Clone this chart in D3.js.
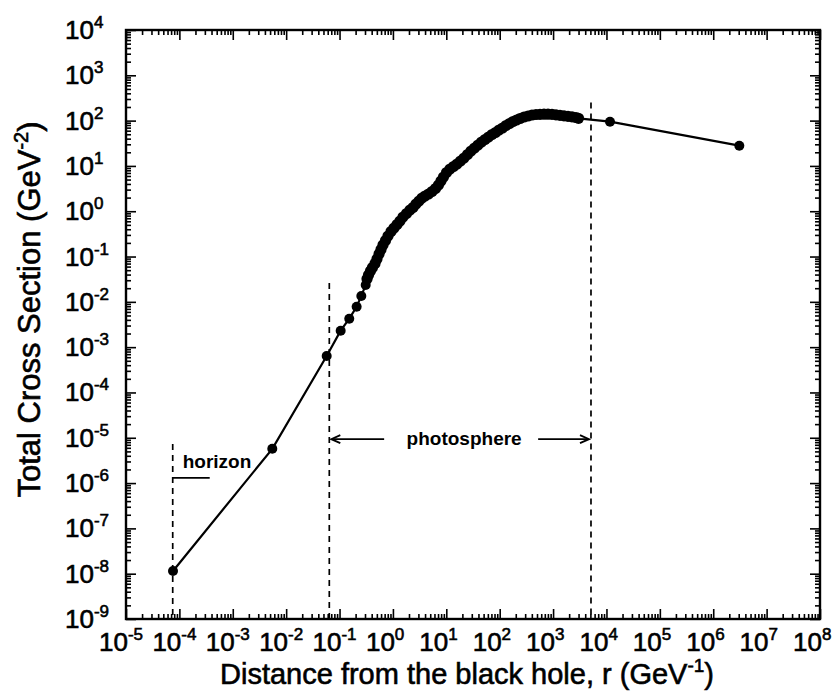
<!DOCTYPE html>
<html>
<head>
<meta charset="utf-8">
<script src="https://cdn.jsdelivr.net/npm/d3@7"></script>
<style>
  body { margin: 0; background: #fff; }
  text { font-family: "Liberation Sans", Arial, Helvetica, sans-serif; fill: #000; }
</style>
</head>
<body>
<svg id="chart" width="835" height="691"></svg>
<script>
// Total cross section vs. distance from the black hole.
// Samples inside the horizon region and the first photosphere points
const sparseR     = [7.6e-5, 5.5e-3, 0.0574, 0.105, 0.152, 0.209, 0.256, 0.309];
const sparseSigma = [1.15e-8, 5.7e-6, 6.4e-4, 2.31e-3, 4.25e-3, 7.8e-3, 0.0135, 0.0236];

// Densely sampled photosphere
const denseR = [
  0.327, 0.349, 0.380, 0.414, 0.462, 0.503, 0.549, 0.598, 0.652, 0.726,
  0.809, 0.920, 1.048, 1.192, 1.357, 1.545, 1.796, 2.088, 2.377, 2.705,
  3.079, 3.505, 3.990, 4.639, 5.395, 6.275, 7.142, 7.954, 8.858, 10.08,
  11.73, 13.63, 15.86, 18.45, 21.45, 24.95, 29.01, 33.74, 39.24, 45.62,
  53.06, 61.71, 71.77, 83.47, 97.05, 112.9, 131.3, 152.7, 177.6, 206.5,
  240.2, 285.3, 339.1, 402.9, 478.6, 568.9, 676.1, 803.5, 954.5, 1134,
  1348, 1602, 1903, 2262, 2688, 2995
];
const denseSigma = [
  0.0320, 0.0392, 0.048, 0.0573, 0.0703, 0.0883, 0.114, 0.143, 0.180, 0.226,
  0.284, 0.357, 0.427, 0.510, 0.609, 0.746, 0.892, 1.065, 1.209, 1.445,
  1.683, 1.960, 2.170, 2.402, 2.727, 3.176, 3.794, 4.650, 5.698, 7.161,
  8.558, 9.714, 11.03, 12.85, 14.96, 17.88, 21.35, 24.87, 28.97, 33.75,
  38.31, 43.50, 49.40, 54.67, 62.09, 68.72, 78.04, 86.42, 95.6, 103.2,
  111.4, 120.2, 126.5, 133.0, 136.5, 137.9, 138.6, 138.6, 137.9, 134.5,
  131.1, 127.8, 124.6, 121.4, 117.2, 112.5
];

// Far-field samples
const tailR     = [1.165e4, 3.08e6];
const tailSigma = [94.7, 28.0];

// Region markers
const horizonR = 7.5e-5;
const horizonTop = 7.3e-6;
const photoInnerR = 0.0643, photoInnerTop = 0.026;
const photoOuterR = 5130,   photoOuterTop = 251;
const arrowSigma = 9.3e-6;

// Axis decades
const xExps = [-5, -4, -3, -2, -1, 0, 1, 2, 3, 4, 5, 6, 7, 8];
const yExps = [-9, -8, -7, -6, -5, -4, -3, -2, -1, 0, 1, 2, 3, 4];

const svg = d3.select("#chart");
const plot = { left: 126, right: 820, top: 30, bottom: 619 };

const x = d3.scaleLog().domain([1e-5, 1e8]).range([plot.left, plot.right]);
const y = d3.scaleLog().domain([1e-9, 1e4]).range([plot.bottom, plot.top]);

const sparse = sparseR.map((r, i) => ({ r, s: sparseSigma[i] }));
const dense = denseR.map((r, i) => ({ r, s: denseSigma[i] }));
const tail = tailR.map((r, i) => ({ r, s: tailSigma[i] }));
const series = [].concat(sparse, dense, tail);

// minor tick values (2..9 in each decade)
function minors(exps) {
  const out = [];
  for (let i = 0; i < exps.length - 1; i++) {
    for (let k = 2; k <= 9; k++) out.push(k * Math.pow(10, exps[i]));
  }
  return out;
}
const xMajor = xExps.map(e => Math.pow(10, e));
const yMajor = yExps.map(e => Math.pow(10, e));
const xMinor = minors(xExps);
const yMinor = minors(yExps);

const axes = svg.append("g").attr("class", "axes");

function drawAxis(gen, tx, ty) {
  const g = axes.append("g").attr("transform", `translate(${tx},${ty})`).call(gen);
  g.selectAll("text").remove();
  g.select(".domain").remove();
  g.selectAll("line").attr("stroke", "#000").attr("stroke-width", 1.6);
  return g;
}

// inward ticks on all four sides
drawAxis(d3.axisBottom(x).tickValues(xMajor).tickSize(-10).tickSizeOuter(0), 0, plot.bottom);
drawAxis(d3.axisBottom(x).tickValues(xMinor).tickSize(-5).tickSizeOuter(0), 0, plot.bottom);
drawAxis(d3.axisTop(x).tickValues(xMajor).tickSize(-10).tickSizeOuter(0), 0, plot.top);
drawAxis(d3.axisTop(x).tickValues(xMinor).tickSize(-5).tickSizeOuter(0), 0, plot.top);
drawAxis(d3.axisLeft(y).tickValues(yMajor).tickSize(-10).tickSizeOuter(0), plot.left, 0);
drawAxis(d3.axisLeft(y).tickValues(yMinor).tickSize(-5).tickSizeOuter(0), plot.left, 0);
drawAxis(d3.axisRight(y).tickValues(yMajor).tickSize(-10).tickSizeOuter(0), plot.right, 0);
drawAxis(d3.axisRight(y).tickValues(yMinor).tickSize(-5).tickSizeOuter(0), plot.right, 0);

// frame
axes.append("rect")
  .attr("x", plot.left).attr("y", plot.top)
  .attr("width", plot.right - plot.left).attr("height", plot.bottom - plot.top)
  .attr("fill", "none").attr("stroke", "#000").attr("stroke-width", 2.4);

// tick labels: "10" with a superscript exponent
const labelFont = 26, expFont = 17;
function powLabel(sel, exp) {
  sel.append("tspan").text("10");
  sel.append("tspan").attr("dy", -11).attr("font-size", expFont).text(exp);
}
const heavy = sel => sel.attr("stroke", "#000").attr("stroke-width", 0.6);

axes.append("g").selectAll("text").data(xExps).join("text")
  .attr("x", d => x(Math.pow(10, d)) - 27)
  .attr("y", plot.bottom + 32)
  .attr("font-size", labelFont)
  .call(heavy)
  .each(function (d) { powLabel(d3.select(this), d); });

axes.append("g").selectAll("text").data(yExps).join("text")
  .attr("x", 65)
  .attr("y", d => y(Math.pow(10, d)) + 9)
  .attr("font-size", labelFont)
  .call(heavy)
  .each(function (d) { powLabel(d3.select(this), d); });

// axis titles
const xt = svg.append("text")
  .attr("x", (plot.left + plot.right) / 2 - 6)
  .attr("y", 684)
  .attr("text-anchor", "middle")
  .attr("font-size", 29)
  .call(heavy);
xt.append("tspan").text("Distance from the black hole, r (GeV");
xt.append("tspan").attr("dy", -12).attr("font-size", 19).text("-1");
xt.append("tspan").attr("dy", 12).text(")");

const yt = svg.append("text")
  .attr("transform", `translate(40,${(plot.top + plot.bottom) / 2 - 15}) rotate(-90)`)
  .attr("text-anchor", "middle")
  .attr("font-size", 31)
  .call(heavy);
yt.append("tspan").text("Total Cross Section (GeV");
yt.append("tspan").attr("dy", -12).attr("font-size", 20).text("-2");
yt.append("tspan").attr("dy", 12).text(")");

// region markers
const marks = svg.append("g")
  .attr("stroke", "#000").attr("stroke-width", 1.7).attr("stroke-dasharray", "6,5");
marks.append("line")
  .attr("x1", x(horizonR)).attr("x2", x(horizonR))
  .attr("y1", y(horizonTop)).attr("y2", plot.bottom);
marks.append("line")
  .attr("x1", x(photoInnerR)).attr("x2", x(photoInnerR))
  .attr("y1", y(photoInnerTop)).attr("y2", plot.bottom);
marks.append("line")
  .attr("x1", x(photoOuterR)).attr("x2", x(photoOuterR))
  .attr("y1", y(photoOuterTop)).attr("y2", plot.bottom);

// annotations
const ann = svg.append("g");
const hx = x(horizonR);
ann.append("line")
  .attr("x1", hx).attr("x2", hx + 37)
  .attr("y1", y(1.3e-6)).attr("y2", y(1.3e-6))
  .attr("stroke", "#000").attr("stroke-width", 1.8);
ann.append("text")
  .attr("x", hx + 10).attr("y", y(1.3e-6) - 10)
  .attr("font-size", 19).attr("font-weight", "bold")
  .text("horizon");

const ay = y(arrowSigma);
const pxIn = x(photoInnerR), pxOut = x(photoOuterR);
const mid = (pxIn + pxOut) / 2 + 4;
function arrow(x1, x2) {
  const dir = Math.sign(x2 - x1);
  ann.append("line")
    .attr("x1", x1).attr("x2", x2 - dir * 2)
    .attr("y1", ay).attr("y2", ay)
    .attr("stroke", "#000").attr("stroke-width", 1.8);
  ann.append("path")
    .attr("d", `M${x2 - dir * 9},${ay - 4} L${x2},${ay} L${x2 - dir * 9},${ay + 4}`)
    .attr("fill", "none").attr("stroke", "#000").attr("stroke-width", 1.8);
}
arrow(mid - 80, pxIn + 2);
arrow(mid + 74, pxOut - 2);
ann.append("text")
  .attr("x", mid).attr("y", ay + 6)
  .attr("text-anchor", "middle")
  .attr("font-size", 19).attr("font-weight", "bold")
  .text("photosphere");

// curve and samples
svg.append("path")
  .datum(series)
  .attr("fill", "none").attr("stroke", "#000").attr("stroke-width", 2.2)
  .attr("d", d3.line().x(d => x(d.r)).y(d => y(d.s)));

const dots = svg.append("g").attr("fill", "#000");
dots.selectAll("circle.s").data(sparse.concat(tail)).join("circle")
  .attr("class", "s")
  .attr("cx", d => x(d.r)).attr("cy", d => y(d.s)).attr("r", 5);
dots.selectAll("circle.d").data(dense).join("circle")
  .attr("class", "d")
  .attr("cx", d => x(d.r)).attr("cy", d => y(d.s)).attr("r", 5.6);
</script>
</body>
</html>
